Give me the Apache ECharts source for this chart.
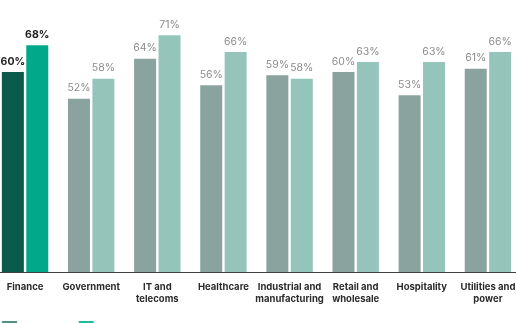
<!DOCTYPE html>
<html><head><meta charset="utf-8">
<script src="https://cdn.jsdelivr.net/npm/echarts@6/dist/echarts.min.js"></script>
<style>html,body{margin:0;padding:0;background:#fff}#c{width:516px;height:323px}</style>
</head><body><div id="c"></div>
<script>
const categories = ["Finance","Government","IT and\ntelecoms","Healthcare","Industrial and\nmanufacturing","Retail and\nwholesale","Hospitality","Utilities and\npower"];
const seriesA = [60,52,64,56,59,60,53,61];
const seriesB = [68,58,71,66,58,63,63,66];
const seriesNames = ["2023","2024"];
const highlightColors = ["#0b5a4c","#02a88a"];
const baseColors = ["#8aa39e","#95c4bb"];
const legendColors = ["#54907f","#1dbd9d"];

function mk(vals, k){
  return vals.map((v,i)=>({
    value:v,
    itemStyle:{color: i===0 ? highlightColors[k] : baseColors[k]},
    label: i===0 ? {color:'#222', fontWeight:'bold'} : {color:'#8c8c8c', fontWeight:'normal'}
  }));
}
const chart = echarts.init(document.getElementById('c'));
chart.setOption({
  animation:false,
  textStyle:{fontFamily:'Inter'},
  grid:{left:-8, width:529, top:5.333, height:266.667, containLabel:false, outerBoundsMode:'none'},
  legend:{left:2, top:321, padding:0, itemWidth:15, itemHeight:20, itemGap:32, icon:'rect',
    textStyle:{fontSize:10, color:'#333'},
    data:seriesNames},
  xAxis:{type:'category', data:categories,
    axisLine:{lineStyle:{color:'#444', width:1}},
    axisTick:{show:false},
    axisLabel:{interval:0, color:'#2b2b2b', fontSize:9.5, fontWeight:'bold', lineHeight:12, margin:9}},
  yAxis:{type:'value', min:0, max:80, show:false, splitLine:{show:false}},
  series:[
    {name:seriesNames[0], type:'bar', data:mk(seriesA,0), barWidth:22, barGap:'11%',
     itemStyle:{color:legendColors[0]},
     label:{show:true, position:'top', distance:5, fontSize:10.5, formatter:'{c}%'}},
    {name:seriesNames[1], type:'bar', data:mk(seriesB,1), barWidth:22,
     itemStyle:{color:legendColors[1]},
     label:{show:true, position:'top', distance:5, fontSize:10.5, formatter:'{c}%'}}
  ]
});
</script></body></html>
